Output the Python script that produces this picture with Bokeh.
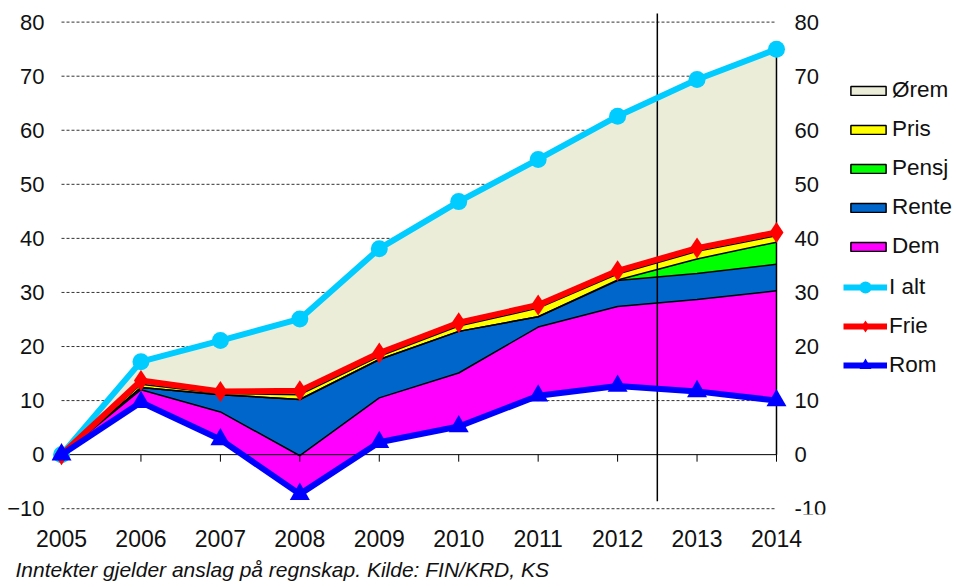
import numpy as np
from bokeh.plotting import figure
from bokeh.models import Range1d, FixedTicker, Legend, LegendItem, Title
from bokeh.core.properties import value
from bokeh.embed import file_html
from bokeh.resources import INLINE

# ---------------- data ----------------
years = [2005, 2006, 2007, 2008, 2009, 2010, 2011, 2012, 2013, 2014]
rom   = [0.0, 9.7, 2.8, -7.3, 2.3, 5.2, 10.9, 12.7, 11.7, 10.0]   # Rom (base)
dem   = [0.0, 2.3, 5.1, 7.1, 8.2, 9.9, 12.7, 14.7, 17.0, 20.3]     # Dem
rente = [0.0, 0.4, 3.2, 10.4, 7.1, 7.7, 1.9, 4.8, 4.8, 4.9]        # Rente
pensj = [0.0, 0.0, 0.0, 0.0, 0.0, 0.0, 0.0, 0.1, 2.7, 4.1]         # Pensj
pris  = [0.0, 0.6, 0.2, 0.9, 0.6, 1.0, 1.6, 1.1, 1.4, 1.2]         # Pris
ialt  = [0.0, 17.2, 21.1, 25.1, 38.1, 46.8, 54.6, 62.6, 69.4, 75.0] # I alt
frie  = [0.0, 13.7, 11.7, 11.8, 18.8, 24.4, 27.7, 34.0, 38.2, 41.1] # Frie

y_ticks = [-10, 0, 10, 20, 30, 40, 50, 60, 70, 80]
grid_vals = [-10, 10, 20, 30, 40, 50, 60, 70, 80]
forecast_x = 2012.5
forecast_y = (-8.6, 81.6)
caption = "Inntekter gjelder anslag på regnskap. Kilde: FIN/KRD, KS"

# cumulative stack levels
base = np.array(rom)
l_dem = base + np.array(dem)
l_rente = l_dem + np.array(rente)
l_pensj = l_rente + np.array(pensj)
l_pris = l_pensj + np.array(pris)
l_orem = np.array(ialt)

FONT = "Liberation Sans"
TXT = "#111111"

p = figure(width=956, height=587, output_backend="svg", toolbar_location=None,
           x_range=Range1d(2004.874, 2016.266), y_range=Range1d(-11.07, 81.78),
           min_border_left=51, min_border_right=0, min_border_top=12, min_border_bottom=72)
p.outline_line_color = None
p.xgrid.visible = False
p.ygrid.visible = False

def style_axis(ax, ticks, standoff, fs):
    ax.ticker = FixedTicker(ticks=ticks)
    ax.axis_line_color = None
    ax.major_tick_line_color = None
    ax.minor_tick_line_color = None
    ax.major_tick_out = 0
    ax.major_tick_in = 0
    ax.minor_tick_out = 0
    ax.major_label_text_font = FONT
    ax.major_label_text_font_size = fs
    ax.major_label_text_color = TXT
    ax.major_label_standoff = standoff

style_axis(p.xaxis[0], years, 15, "23px")
style_axis(p.yaxis[0], y_ticks, 7, "22px")

# right-hand value labels at the 2014 edge
p.text(x=[years[-1]] * len(y_ticks), y=y_ticks, text=[str(t) for t in y_ticks],
       x_offset=18, text_align="left", text_baseline="middle",
       text_font=value(FONT), text_font_size=value("22px"), text_color=TXT)

# dashed gridlines (behind areas)
p.segment(x0=[years[0]] * len(grid_vals), x1=[years[-1]] * len(grid_vals),
          y0=grid_vals, y1=grid_vals, line_color="#333333", line_width=1, line_dash="3 2")

# stacked areas
area_specs = [
    ("Ørem", l_pris, l_orem, "#ECEDD9"),
    ("Pris", l_pensj, l_pris, "#FFFF00"),
    ("Pensj", l_rente, l_pensj, "#00FF00"),
    ("Rente", l_dem, l_rente, "#0066CC"),
    ("Dem", base, l_dem, "#FF00FF"),
]
for name, lo, hi, col in area_specs:
    p.varea(x=years, y1=lo, y2=hi, fill_color=col)

# black outlines on top of each layer
for lvl in [l_dem, l_rente, l_pensj, l_pris]:
    p.line(years, lvl, line_color="black", line_width=1.5)
p.segment(x0=[years[-1]], y0=[0], x1=[years[-1]], y1=[l_orem[-1]], line_color="black", line_width=1.5)

# zero axis with ticks
p.segment(x0=[years[0]], y0=[0], x1=[years[-1]], y1=[0], line_color="black", line_width=1)
p.segment(x0=years, y0=[0] * len(years), x1=years, y1=[-1.3] * len(years), line_color="black", line_width=1)

# forecast separator
p.segment(x0=[forecast_x], y0=[forecast_y[0]], x1=[forecast_x], y1=[forecast_y[1]],
          line_color="black", line_width=1.5)

# series lines
r_ialt_l = p.line(years, ialt, line_color="#00CCFF", line_width=6)
r_ialt_m = p.scatter(years, ialt, marker="circle", size=17, fill_color="#00CCFF", line_color=None)
r_frie_l = p.line(years, frie, line_color="#FF0000", line_width=6)
r_frie_m = p.scatter(years, frie, marker="diamond", size=21, fill_color="#FF0000", line_color=None)
r_rom_l = p.line(years, rom, line_color="#0000FF", line_width=6)
r_rom_m = p.scatter(years, rom, marker="triangle", size=20, fill_color="#0000FF", line_color=None)

# legend swatches (outlined boxes; NaN geometry so they only appear in the legend)
area_items = []
for name, lo, hi, col in area_specs:
    dummy = p.quad(left=[np.nan], right=[np.nan], top=[np.nan], bottom=[np.nan],
                   fill_color=col, line_color="black", line_width=1.5)
    area_items.append(LegendItem(label=name, renderers=[dummy]))

def style_legend(lg, gh, spacing):
    lg.glyph_width = 44
    lg.glyph_height = gh
    lg.label_standoff = 2
    lg.label_text_font = FONT
    lg.label_text_font_size = "22.5px"
    lg.label_text_color = TXT
    lg.spacing = spacing
    lg.padding = 0
    lg.margin = 0
    lg.border_line_color = None
    lg.background_fill_alpha = 0

leg1 = Legend(items=area_items, location=(795, 255))
style_legend(leg1, 11, 13)
p.add_layout(leg1, "center")

line_items = [
    LegendItem(label="I alt", renderers=[r_ialt_l, r_ialt_m]),
    LegendItem(label="Frie", renderers=[r_frie_l, r_frie_m]),
    LegendItem(label="Rom", renderers=[r_rom_l, r_rom_m]),
]
leg2 = Legend(items=line_items, location=(792, 134))
style_legend(leg2, 30, 9)
p.add_layout(leg2, "center")

cap = Title(text=caption, align="left", text_font=FONT, text_font_size="21px",
            text_font_style="italic", text_color=TXT, offset=-36, standoff=13)
p.add_layout(cap, "below")

open("out.html", "w").write(file_html(p, INLINE))
